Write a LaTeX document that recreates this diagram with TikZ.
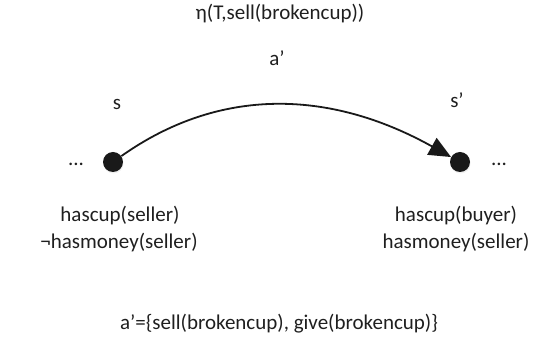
\documentclass[tikz,border=0pt]{standalone}
\usepackage{fontspec}
\setmainfont{Carlito}
\usetikzlibrary{arrows.meta,shadows}
\begin{document}
\begin{tikzpicture}[x=1pt,y=-1pt,
  lbl/.style={font=\fontsize{21}{25}\selectfont, anchor=base, inner sep=0pt, text=black!88},
  state/.style={circle, fill=black!90, minimum size=20pt, inner sep=0pt,
    drop shadow={opacity=0.12, shadow xshift=0.5pt, shadow yshift=-1.5pt}},
  trans/.style={line width=1.8pt, black!90, -{Triangle[length=22pt,width=19pt]}}]
\useasboundingbox (0,0) rectangle (558,347);
\node[lbl] (title) at (280,20) {η(T,sell(brokencup))};
\node[lbl] (aprime) at (277,66) {a’};
\node[lbl] (s) at (117,110) {s};
\node[lbl] (sp) at (457,108) {s’};
\node[state] (l) at (113,162) {};
\node[state] (r) at (460,162) {};
\node[lbl] (ldots) at (76,166) {...};
\node[lbl] (rdots) at (499,166) {...};
\node[lbl] (l1) at (120,222) {hascup(seller)};
\node[lbl] (l2) at (119,249) {¬hasmoney(seller)};
\node[lbl] (r1) at (456,222) {hascup(buyer)};
\node[lbl] (r2) at (456,249) {hasmoney(seller)};
\node[lbl] (bottom) at (279,330) {a’=\{sell(brokencup), give(brokencup)\}};
\draw[trans] (l) .. controls (219,87) and (329,89) .. (r);
\end{tikzpicture}
\end{document}
